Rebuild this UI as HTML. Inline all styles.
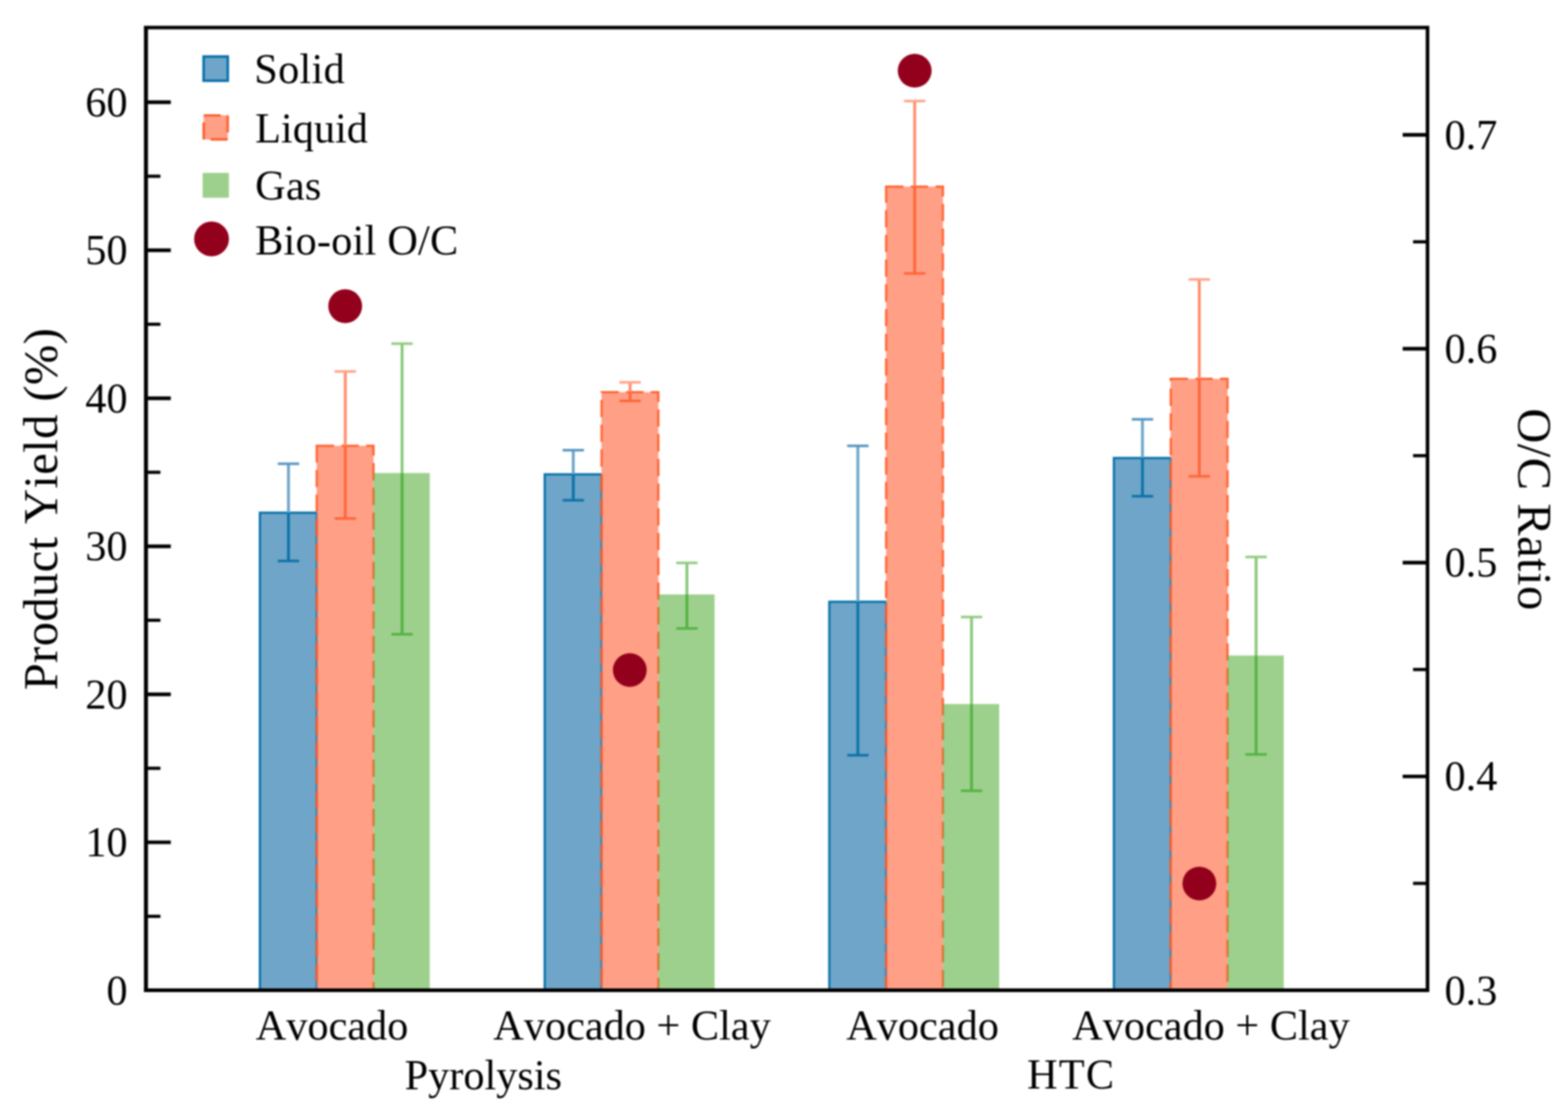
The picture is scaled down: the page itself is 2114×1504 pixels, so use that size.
<!DOCTYPE html>
<html lang="en">
<head>
<meta charset="utf-8">
<title>Product Yield and O/C Ratio</title>
<style>
html,body{margin:0;padding:0;background:#fff;}
body{width:2114px;height:1504px;overflow:hidden;}
svg{display:block;filter:blur(1px);}
text{font-family:"Liberation Serif", "DejaVu Serif", serif;fill:#000;font-kerning:none;}
</style>
</head>
<body>
<svg width="2114" height="1504" viewBox="0 0 2114 1504">
<rect x="0" y="0" width="2114" height="1504" fill="#ffffff"/>
<g id="bars">
<rect x="350.4" y="691.0" width="76.6" height="643.6" fill="#0f69a3" fill-opacity="0.60"/>
<path d="M350.4 1334.6 V691.0 H427.0" fill="none" stroke="#0570a8" stroke-width="3.0"/>
<path d="M427.0 691.0 V1334.6" fill="none" stroke="#0570a8" stroke-width="3.0" stroke-opacity="0.7"/>
<rect x="427.0" y="600.8" width="76.6" height="733.8" fill="#ff5f35" fill-opacity="0.60"/>
<path d="M427.0 600.8 H503.6 V1334.6 H427.0 Z" fill="none" stroke="#ff5a26" stroke-width="3.0" stroke-opacity="0.92" stroke-dasharray="23.3 10"/>
<rect x="503.6" y="637.5" width="75.8" height="697.1" fill="#5cb13f" fill-opacity="0.60"/>
<rect x="734.4" y="639.3" width="76.6" height="695.3" fill="#0f69a3" fill-opacity="0.60"/>
<path d="M734.4 1334.6 V639.3 H811.0" fill="none" stroke="#0570a8" stroke-width="3.0"/>
<path d="M811.0 639.3 V1334.6" fill="none" stroke="#0570a8" stroke-width="3.0" stroke-opacity="0.7"/>
<rect x="811.0" y="528.5" width="76.6" height="806.1" fill="#ff5f35" fill-opacity="0.60"/>
<path d="M811.0 528.5 H887.6 V1334.6 H811.0 Z" fill="none" stroke="#ff5a26" stroke-width="3.0" stroke-opacity="0.92" stroke-dasharray="23.3 10"/>
<rect x="887.6" y="801.1" width="75.8" height="533.5" fill="#5cb13f" fill-opacity="0.60"/>
<rect x="1118.1" y="811.0" width="76.6" height="523.6" fill="#0f69a3" fill-opacity="0.60"/>
<path d="M1118.1 1334.6 V811.0 H1194.7" fill="none" stroke="#0570a8" stroke-width="3.0"/>
<path d="M1194.7 811.0 V1334.6" fill="none" stroke="#0570a8" stroke-width="3.0" stroke-opacity="0.7"/>
<rect x="1194.7" y="251.5" width="76.6" height="1083.1" fill="#ff5f35" fill-opacity="0.60"/>
<path d="M1194.7 251.5 H1271.3 V1334.6 H1194.7 Z" fill="none" stroke="#ff5a26" stroke-width="3.0" stroke-opacity="0.92" stroke-dasharray="23.3 10"/>
<rect x="1271.3" y="948.8" width="75.8" height="385.8" fill="#5cb13f" fill-opacity="0.60"/>
<rect x="1501.8" y="617.2" width="76.6" height="717.4" fill="#0f69a3" fill-opacity="0.60"/>
<path d="M1501.8 1334.6 V617.2 H1578.4" fill="none" stroke="#0570a8" stroke-width="3.0"/>
<path d="M1578.4 617.2 V1334.6" fill="none" stroke="#0570a8" stroke-width="3.0" stroke-opacity="0.7"/>
<rect x="1578.4" y="510.6" width="76.6" height="824.0" fill="#ff5f35" fill-opacity="0.60"/>
<path d="M1578.4 510.6 H1655.0 V1334.6 H1578.4 Z" fill="none" stroke="#ff5a26" stroke-width="3.0" stroke-opacity="0.92" stroke-dasharray="23.3 10"/>
<rect x="1655.0" y="883.4" width="75.8" height="451.2" fill="#5cb13f" fill-opacity="0.60"/>
</g>
<g id="errorbars" fill="none">
<path d="M388.9 625.0 V691.0" stroke="#6ba3c8" stroke-width="3.8"/>
<path d="M388.9 691.0 V756.0" stroke="#0a72aa" stroke-width="3.8"/>
<path d="M374.5 625.0 H403.3" stroke="#5595c0" stroke-width="3.4"/>
<path d="M374.5 756.0 H403.3" stroke="#0a72aa" stroke-width="3.4"/>
<path d="M465.5 500.6 V600.8" stroke="#ff8a68" stroke-width="3.8"/>
<path d="M465.5 600.8 V698.8" stroke="#ff6538" stroke-width="3.8"/>
<path d="M451.1 500.6 H479.9" stroke="#ffa288" stroke-width="3.4"/>
<path d="M451.1 698.8 H479.9" stroke="#ff6538" stroke-width="3.4"/>
<path d="M542.1 463.1 V637.5" stroke="#86c676" stroke-width="3.8"/>
<path d="M542.1 637.5 V854.8" stroke="#55b242" stroke-width="3.8"/>
<path d="M527.7 463.1 H556.5" stroke="#90cc80" stroke-width="3.4"/>
<path d="M527.7 854.8 H556.5" stroke="#55b242" stroke-width="3.4"/>
<path d="M772.9 606.7 V639.3" stroke="#6ba3c8" stroke-width="3.8"/>
<path d="M772.9 639.3 V674.2" stroke="#0a72aa" stroke-width="3.8"/>
<path d="M758.5 606.7 H787.3" stroke="#5595c0" stroke-width="3.4"/>
<path d="M758.5 674.2 H787.3" stroke="#0a72aa" stroke-width="3.4"/>
<path d="M849.5 515.3 V528.5" stroke="#ff8a68" stroke-width="3.8"/>
<path d="M849.5 528.5 V540.3" stroke="#ff6538" stroke-width="3.8"/>
<path d="M835.1 515.3 H863.9" stroke="#ffa288" stroke-width="3.4"/>
<path d="M835.1 540.3 H863.9" stroke="#ff6538" stroke-width="3.4"/>
<path d="M926.1 758.6 V801.1" stroke="#86c676" stroke-width="3.8"/>
<path d="M926.1 801.1 V847.0" stroke="#55b242" stroke-width="3.8"/>
<path d="M911.7 758.6 H940.5" stroke="#90cc80" stroke-width="3.4"/>
<path d="M911.7 847.0 H940.5" stroke="#55b242" stroke-width="3.4"/>
<path d="M1156.6 600.9 V811.0" stroke="#6ba3c8" stroke-width="3.8"/>
<path d="M1156.6 811.0 V1017.8" stroke="#0a72aa" stroke-width="3.8"/>
<path d="M1142.2 600.9 H1171.0" stroke="#5595c0" stroke-width="3.4"/>
<path d="M1142.2 1017.8 H1171.0" stroke="#0a72aa" stroke-width="3.4"/>
<path d="M1233.2 136.2 V251.5" stroke="#ff8a68" stroke-width="3.8"/>
<path d="M1233.2 251.5 V368.5" stroke="#ff6538" stroke-width="3.8"/>
<path d="M1218.8 136.2 H1247.6" stroke="#ffa288" stroke-width="3.4"/>
<path d="M1218.8 368.5 H1247.6" stroke="#ff6538" stroke-width="3.4"/>
<path d="M1309.8 831.5 V948.8" stroke="#86c676" stroke-width="3.8"/>
<path d="M1309.8 948.8 V1065.7" stroke="#55b242" stroke-width="3.8"/>
<path d="M1295.4 831.5 H1324.2" stroke="#90cc80" stroke-width="3.4"/>
<path d="M1295.4 1065.7 H1324.2" stroke="#55b242" stroke-width="3.4"/>
<path d="M1540.3 565.1 V617.2" stroke="#6ba3c8" stroke-width="3.8"/>
<path d="M1540.3 617.2 V668.7" stroke="#0a72aa" stroke-width="3.8"/>
<path d="M1525.9 565.1 H1554.7" stroke="#5595c0" stroke-width="3.4"/>
<path d="M1525.9 668.7 H1554.7" stroke="#0a72aa" stroke-width="3.4"/>
<path d="M1616.9 376.6 V510.6" stroke="#ff8a68" stroke-width="3.8"/>
<path d="M1616.9 510.6 V641.9" stroke="#ff6538" stroke-width="3.8"/>
<path d="M1602.5 376.6 H1631.3" stroke="#ffa288" stroke-width="3.4"/>
<path d="M1602.5 641.9 H1631.3" stroke="#ff6538" stroke-width="3.4"/>
<path d="M1693.5 750.6 V883.4" stroke="#86c676" stroke-width="3.8"/>
<path d="M1693.5 883.4 V1016.7" stroke="#55b242" stroke-width="3.8"/>
<path d="M1679.1 750.6 H1707.9" stroke="#90cc80" stroke-width="3.4"/>
<path d="M1679.1 1016.7 H1707.9" stroke="#55b242" stroke-width="3.4"/>
</g>
<g id="dots" fill="#93001c">
<circle cx="465.4" cy="412.6" r="22.8"/>
<circle cx="849.1" cy="903.0" r="22.8"/>
<circle cx="1233.2" cy="95.3" r="22.8"/>
<circle cx="1617.0" cy="1190.7" r="22.8"/>
</g>
<g id="axes" stroke="#000" fill="none">
<path d="M196.8 35.3 V1337.1" stroke-width="5.4"/>
<path d="M1924.6 35.3 V1337.1" stroke-width="4.8"/>
<path d="M194.1 37.2 H1927.0" stroke-width="4.8"/>
<path d="M194.1 1334.6 H1927.0" stroke-width="5.0"/>
<path d="M196.8 1234.9 H216.3" stroke-width="4.3"/>
<path d="M196.8 1135.1 H230.3" stroke-width="4.9"/>
<path d="M196.8 1035.4 H216.3" stroke-width="4.3"/>
<path d="M196.8 935.7 H230.3" stroke-width="4.9"/>
<path d="M196.8 835.9 H216.3" stroke-width="4.3"/>
<path d="M196.8 736.2 H230.3" stroke-width="4.9"/>
<path d="M196.8 636.5 H216.3" stroke-width="4.3"/>
<path d="M196.8 536.7 H230.3" stroke-width="4.9"/>
<path d="M196.8 437.0 H216.3" stroke-width="4.3"/>
<path d="M196.8 337.2 H230.3" stroke-width="4.9"/>
<path d="M196.8 237.5 H216.3" stroke-width="4.3"/>
<path d="M196.8 137.8 H230.3" stroke-width="4.9"/>
<path d="M1924.6 1190.5 H1905.1" stroke-width="4.3"/>
<path d="M1924.6 1046.4 H1891.1" stroke-width="4.9"/>
<path d="M1924.6 902.3 H1905.1" stroke-width="4.3"/>
<path d="M1924.6 758.2 H1891.1" stroke-width="4.9"/>
<path d="M1924.6 614.1 H1905.1" stroke-width="4.3"/>
<path d="M1924.6 470.0 H1891.1" stroke-width="4.9"/>
<path d="M1924.6 325.9 H1905.1" stroke-width="4.3"/>
<path d="M1924.6 181.8 H1891.1" stroke-width="4.9"/>
</g>
<g id="yticks-left" font-size="57.0" text-anchor="end">
<text x="172" y="1353.6">0</text>
<text x="172" y="1154.1">10</text>
<text x="172" y="954.7">20</text>
<text x="172" y="755.2">30</text>
<text x="172" y="555.7">40</text>
<text x="172" y="356.2">50</text>
<text x="172" y="156.8">60</text>
</g>
<g id="yticks-right" font-size="57.0" text-anchor="start">
<text x="1947.5" y="1353.6">0.3</text>
<text x="1947.5" y="1065.4">0.4</text>
<text x="1947.5" y="777.2">0.5</text>
<text x="1947.5" y="489.0">0.6</text>
<text x="1947.5" y="200.8">0.7</text>
</g>
<g id="xticks" font-size="57.0" text-anchor="middle">
<text x="447.7" y="1401.2">Avocado</text>
<text x="852.1" y="1401.2">Avocado + Clay</text>
<text x="1243.8" y="1401.2">Avocado</text>
<text x="1632.6" y="1401.2">Avocado + Clay</text>
<text x="651.6" y="1467.6">Pyrolysis</text>
<text x="1444.2" y="1467.4" letter-spacing="1.6">HTC</text>
</g>
<text font-size="65.5" text-anchor="middle" letter-spacing="0.5" transform="translate(76.8 686) rotate(-90)">Product Yield (%)</text>
<text font-size="65.5" text-anchor="middle" letter-spacing="0.6" transform="translate(2046.6 686.6) rotate(90)">O/C Ratio</text>
<g id="legend" font-size="57.0">
<rect x="274.5" y="76.2" width="32.6" height="32.6" fill="#6fa5c8" stroke="#0570a8" stroke-width="3.4"/>
<rect x="274.6" y="155.5" width="32.4" height="32.4" fill="#ff9f86" stroke="#ff5a26" stroke-width="3.2" stroke-dasharray="23 9.4"/>
<rect x="273.2" y="233" width="35.4" height="33.5" fill="#9dd08c"/>
<circle cx="285.2" cy="322" r="23.5" fill="#93001c"/>
<text x="342.8" y="112.3" letter-spacing="0.4">Solid</text>
<text x="344" y="191.7">Liquid</text>
<text x="344" y="268.5" letter-spacing="0.3">Gas</text>
<text x="344" y="342.5" letter-spacing="0.3">Bio-oil O/C</text>
</g>
</svg>
</body>
</html>
